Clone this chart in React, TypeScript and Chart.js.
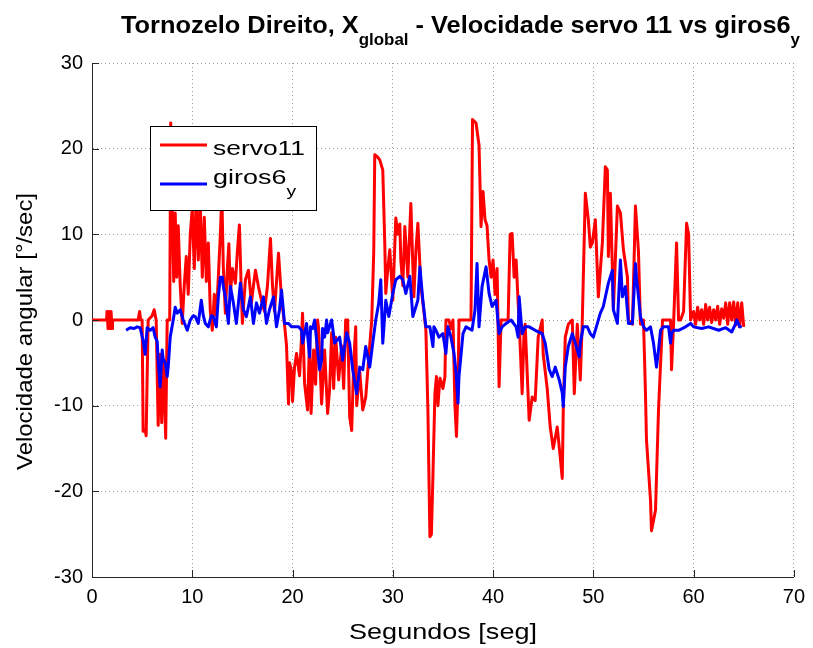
import React, { useEffect, useRef } from 'react';
import { Chart, registerables } from 'chart.js';

Chart.register(...registerables);

// ---- data ----
const servoT = [
  0, 1.45, 1.5, 1.6, 1.7, 1.8, 1.9, 2.0, 2.05, 4.6, 4.75, 4.85, 5.0, 5.1, 5.3, 5.4, 5.6, 6.0, 6.2, 6.4,
  6.6, 6.8, 6.95, 7.1, 7.2, 7.35, 7.5, 7.75, 7.85, 8.0, 8.15, 8.3, 8.45, 8.6, 8.8, 9.0, 9.2, 9.4, 9.6, 9.8,
  10.0, 10.2, 10.4, 10.6, 10.8, 11.0, 11.2, 11.4, 11.6, 11.8, 12.0, 12.2, 12.4, 12.6, 12.8, 12.95, 13.1, 13.3, 13.5, 13.65,
  13.8, 14.0, 14.3, 14.5, 14.7, 14.9, 15.0, 15.3, 15.6, 15.9, 16.1, 16.3, 16.6, 16.9, 17.2, 17.5, 17.8, 18.0, 18.2, 18.6,
  18.9, 19.2, 19.4, 19.6, 19.7, 19.9, 20.0, 20.2, 20.4, 20.7, 20.9, 21.0, 21.2, 21.5, 21.7, 21.85, 22.1, 22.3, 22.5, 22.6,
  22.9, 23.2, 23.5, 23.7, 23.9, 24.1, 24.3, 24.6, 24.9, 25.1, 25.3, 25.5, 25.7, 25.9, 26.1, 26.3, 26.4, 26.7, 27.0, 27.3,
  27.5, 27.7, 27.9, 28.1, 28.2, 28.5, 28.7, 29.0, 29.2, 29.3, 29.5, 29.7, 30.0, 30.3, 30.5, 30.7, 30.8, 31.0, 31.2, 31.5,
  31.8, 32.1, 32.3, 32.5, 32.8, 33.1, 33.3, 33.5, 33.7, 33.85, 34.0, 34.2, 34.35, 34.5, 34.7, 35.0, 35.2, 35.3, 35.6, 35.8,
  36.0, 36.2, 36.35, 36.5, 36.6, 37.8, 37.95, 38.3, 38.6, 38.8, 39.0, 39.2, 39.4, 39.6, 39.8, 40.0, 40.2, 40.4, 40.6, 40.8,
  41.5, 41.7, 41.9, 42.1, 42.3, 42.5, 42.6, 42.9, 43.1, 43.2, 43.6, 43.9, 44.2, 44.5, 44.9, 45.0, 45.4, 45.7, 46.0, 46.4,
  46.7, 46.9, 47.0, 47.2, 47.5, 47.9, 48.1, 48.4, 48.7, 48.9, 49.2, 49.5, 49.7, 49.9, 50.2, 50.5, 50.9, 51.2, 51.4, 51.5,
  51.7, 52.0, 52.4, 52.7, 53.0, 53.4, 53.5, 53.9, 54.2, 54.5, 54.7, 55.0, 55.2, 55.3, 55.5, 55.7, 55.8, 56.2, 56.5, 56.9,
  57.7, 57.8, 58.0, 58.3, 58.5, 58.7, 59.0, 59.3, 59.5, 59.7, 60.0, 60.2, 60.4, 60.6, 60.8, 61.0, 61.2, 61.4, 61.6, 61.8,
  62.0, 62.2, 62.4, 62.6, 62.8, 63.0, 63.2, 63.4, 63.6, 63.8, 64.0, 64.2, 64.4, 64.6, 64.8, 65.0,
];
const servoV = [
  0, 0, 1, -1, 1, -1, 1, -1, 0, 0, 1, 0, 0, -13, -12.8, -13.5, 0, 0.5, 1.2, 0,
  -12.3, -4, -12, -5, -7.5, -13.8, 0, 0, 23, 13, 4.5, 12.5, 5, 11, 4, -0.4, 4, 7.4, 3, 10,
  13, 6, 14.8, 7, 13.5, 5, 12, 4.5, 9, 1, -1.2, 3, 0.5, 5, 10, 14.5, 6, 0.8, 6, 8.9,
  3, 6, 4.3, 8, 11.1, 3, -0.4, 4.7, 5.8, 2, 4, 5.8, 3.9, 2.3, 1, 4, 9.5, 4, 1, 7.8,
  2.5, -0.5, -3, -9.8, -5, -6, -9.5, -5.5, -3.9, -6.5, -2, 0.8, -7.4, -10.5, -2, -10.9, -3.5, -7.5, 0, -1,
  -9.8, -3.5, -10.9, -8, -1.5, -8, -2, -7, -3, -8, 0, 0, -11.3, -12.9, -5, -0.8, -10, -6, -10.5, -9,
  -6, -3, 0, 8, 19.3, 19, 18.7, 17.5, 8.9, 3.1, 6, 8.2, 2.3, 11.9, 10, 11.2, 7, 4, 10.9, 5,
  13.6, 2.7, 8, 11.3, 4, 1, -1.2, -10.5, -25.3, -25, -18.3, -8.6, -6.6, -10, -6.8, -8, -6.6, 0, 0, -1,
  0, -10, -13.6, -8, 0, 0, 23.4, 23, 20.4, 10.9, 15, 11.7, 11, 7, 5, 7, 3, 6, -7.8, 0,
  0, 10, 10.1, 5, 7, 2, 0, -8.6, -1, -0.5, -11.7, -9, -9.4, -2, 0, -4, -8, -12.5, -15, -12.5,
  -16, -18.5, -10.5, -2, -0.5, 0, -8.6, -0.5, -7, 0, 14.8, 11.7, 8.5, 9, 11.7, 2.7, 9, 17.9, 17.5, 7.4,
  14.8, 1.2, 13.3, 12.5, 8.2, 5, 0, -0.5, 13.3, 8, -0.5, 0, -8.6, -14, -17.5, -21, -24.6, -22.2, -10.5, 0,
  0, -5.8, -0.5, 9, 0, 0, 1, 11.3, 10, 0, 1, -0.5, 1.5, 0, 1.2, -0.5, 1.8, 0, 1.5, -0.3,
  1.2, 0, 1.6, -0.5, 1.3, 0.2, 2, -0.5, 2, 0, 2.1, -0.6, 2, -0.8, 2, -0.8,
];
const girosT = [
  3.4, 3.8, 4.2, 4.5, 4.8, 5.1, 5.3, 5.5, 5.8, 6.1, 6.3, 6.5, 6.6, 6.8, 7.0, 7.1, 7.3, 7.5, 7.6, 7.8,
  8.1, 8.3, 8.5, 8.8, 9.1, 9.5, 9.8, 10.1, 10.3, 10.6, 10.9, 11.1, 11.3, 11.6, 11.9, 12.1, 12.4, 12.6, 12.8, 13.0,
  13.1, 13.3, 13.6, 13.8, 14.1, 14.4, 14.8, 15.1, 15.4, 15.8, 16.1, 16.4, 16.7, 17.1, 17.4, 17.7, 18.1, 18.4, 18.7, 18.9,
  19.2, 19.6, 19.9, 20.3, 20.6, 20.9, 21.0, 21.4, 21.7, 21.8, 22.0, 22.2, 22.5, 22.7, 22.9, 23.0, 23.2, 23.4, 23.5, 23.9,
  24.2, 24.7, 25.0, 25.4, 25.7, 26.0, 26.4, 26.7, 27.0, 27.3, 27.7, 28.0, 28.3, 28.6, 28.8, 29.0, 29.3, 29.6, 30.0, 30.3,
  30.7, 31.0, 31.3, 31.7, 32.0, 32.5, 32.7, 33.0, 33.3, 33.7, 34.0, 34.1, 34.3, 34.6, 35.0, 35.3, 35.5, 35.8, 36.1, 36.3,
  36.5, 36.6, 37.0, 37.3, 37.9, 38.2, 38.4, 38.6, 38.9, 39.3, 39.6, 39.9, 40.3, 40.6, 40.9, 41.3, 41.8, 42.3, 42.5, 42.6,
  42.9, 43.2, 43.6, 44.2, 44.9, 45.2, 45.6, 45.9, 46.2, 46.6, 46.9, 47.0, 47.2, 47.5, 47.9, 48.2, 48.6, 48.7, 49.0, 49.4,
  49.7, 50.0, 50.4, 50.7, 51.0, 51.2, 51.5, 51.9, 52.0, 52.4, 52.7, 52.9, 53.2, 53.5, 53.9, 54.2, 54.3, 54.7, 55.0, 55.3,
  55.7, 56.0, 56.3, 56.5, 56.7, 57.0, 57.3, 57.5, 57.7, 57.8, 58.0, 58.5, 59.2, 59.7, 60.0, 60.8, 61.5, 62.5, 63.2, 63.8,
  64.2, 64.3, 64.6, 64.8,
];
const girosV = [
  -1.2, -0.9, -1, -0.8, -0.9, -2.4, -4, -0.9, -1.2, -0.9, -2, -2.5, -4.7, -7.8, -3.5, -4.5, -5, -6.6, -5.5, -2,
  0, 1.5, 0.8, 1.2, 0, -1.2, 0, 0.5, 0.4, -0.4, 2.3, 0.5, -0.4, -0.8, 0.5, 0.4, -0.8, 2.7, 5, 5,
  3.9, 2.7, -0.4, 3.9, 2, -0.4, 4.3, 1.2, 0.4, 2.7, -0.4, 2, 0.8, 2.7, -0.4, 1.2, 2.7, -0.8, 1.2, 3.5,
  -0.4, -0.4, -0.8, -0.8, -0.8, -1.2, -2.7, -0.4, -4.3, -0.8, -1, 0, -3.5, -5.8, -4.7, -1, -2, 0, -1.5, 0,
  -2.7, -2, -4.7, -1.5, -2.7, -5.8, -8.6, -5.5, -5.8, -3.1, -5.5, -2.7, 0, 2, 4.7, -2.7, 2.3, 0.4, 3.1, 4.7,
  5.1, 4.7, 3.1, 5.1, 0.4, 2.3, 6.2, 2.3, -0.8, -0.8, -3.1, -0.8, -1.2, -2, -1.6, -3.9, -0.8, -2, -3.9, -6,
  -9.7, -6.6, -1.6, -0.8, -1.2, 1.2, 6.6, -0.8, 3.9, 6.2, 3.1, 1.6, 2.3, -1.6, -0.8, -0.4, 0, -0.8, -2, 2.7,
  -1.6, -0.8, -0.8, -1.2, -1.6, -2.7, -5.8, -6.6, -5.5, -7, -8.5, -10.1, -5.5, -3.1, -1.6, -2.7, -4.3, -2.7, -0.8, -0.8,
  -1.6, -2, -0.4, 0.8, 1.6, 2.7, 4.3, 5.8, 1.2, -0.4, 7, 2.7, 3.9, -0.4, -0.4, 6.6, 5, 0.4, -0.8, -1.2,
  -0.8, -2.7, -5.5, -3.5, -1.2, -0.8, -0.8, -0.8, -2.7, -1.6, -1.2, -1.2, -0.8, -0.4, -0.8, -1.0, -0.8, -1.2, -0.9, -1.4,
  -0.4, 0, -0.8, -0.8,
];
const xTickValues = [0, 10, 20, 30, 40, 50, 60, 70];
const yTickValues = [-30, -20, -10, 0, 10, 20, 30];
const seriesLabels = ['servo11', 'giros6'];

const FONT = '"Liberation Sans", Arial, Helvetica, sans-serif';

type Part = { text: string; font: string; dy: number };

function drawParts(ctx: CanvasRenderingContext2D, parts: Part[], x: number, y: number, targetWidth: number | null) {
  ctx.save();
  let total = 0;
  const widths = parts.map((p) => {
    ctx.font = p.font;
    const w = ctx.measureText(p.text).width;
    total += w;
    return w;
  });
  const s = targetWidth ? targetWidth / total : 1;
  ctx.translate(x, y);
  ctx.scale(s, 1);
  let cx = 0;
  ctx.fillStyle = '#000';
  ctx.textAlign = 'left';
  ctx.textBaseline = 'alphabetic';
  parts.forEach((p, i) => {
    ctx.font = p.font;
    ctx.fillText(p.text, cx, p.dy);
    cx += widths[i];
  });
  ctx.restore();
}

const overlay = {
  id: 'overlay',
  afterDraw(chart: any) {
    const ctx: CanvasRenderingContext2D = chart.ctx;
    const { left, bottom } = chart.chartArea;
    const xs = chart.scales.x;
    const ys = chart.scales.y;
    ctx.save();
    // inward ticks
    ctx.strokeStyle = '#262626';
    ctx.lineWidth = 1;
    ctx.beginPath();
    xTickValues.forEach((t) => {
      const px = Math.round(xs.getPixelForValue(t)) + 0.5;
      ctx.moveTo(px, bottom);
      ctx.lineTo(px, bottom - 7);
    });
    yTickValues.forEach((v) => {
      const py = Math.round(ys.getPixelForValue(v)) + 0.5;
      ctx.moveTo(left, py);
      ctx.lineTo(left + 7, py);
    });
    ctx.stroke();

    // legend box
    const lx = 150.5, ly = 126.5, lw = 166, lh = 84;
    ctx.fillStyle = '#fff';
    ctx.fillRect(lx, ly, lw, lh);
    ctx.strokeStyle = '#000';
    ctx.lineWidth = 1;
    ctx.strokeRect(lx, ly, lw, lh);
    ctx.lineWidth = 3;
    ctx.strokeStyle = '#ff0000';
    ctx.beginPath();
    ctx.moveTo(160, 145);
    ctx.lineTo(207, 145);
    ctx.stroke();
    ctx.strokeStyle = '#0000ff';
    ctx.beginPath();
    ctx.moveTo(160, 184);
    ctx.lineTo(207, 184);
    ctx.stroke();
    drawParts(ctx, [{ text: seriesLabels[0], font: `21px ${FONT}`, dy: 0 }], 213, 155, 92);
    drawParts(
      ctx,
      [
        { text: seriesLabels[1], font: `21px ${FONT}`, dy: 0 },
        { text: 'y', font: `15px ${FONT}`, dy: 12 },
      ],
      213,
      184,
      83
    );

    // title
    drawParts(
      ctx,
      [
        { text: 'Tornozelo Direito, X', font: `bold 24px ${FONT}`, dy: 0 },
        { text: 'global', font: `bold 16px ${FONT}`, dy: 12 },
        { text: ' - Velocidade servo 11 vs giros6', font: `bold 24px ${FONT}`, dy: 0 },
        { text: 'y', font: `bold 16px ${FONT}`, dy: 12 },
      ],
      121,
      33,
      679
    );

    // x axis title
    drawParts(ctx, [{ text: 'Segundos [seg]', font: `22px ${FONT}`, dy: 0 }], 349, 639, 188);

    // y axis title (rotated)
    ctx.save();
    ctx.translate(32, 470);
    ctx.rotate(-Math.PI / 2);
    drawParts(ctx, [{ text: 'Velocidade angular [°/sec]', font: `22px ${FONT}`, dy: 0 }], 0, 0, 277);
    ctx.restore();

    ctx.restore();
  },
};

export default function App() {
  const canvasRef = useRef<HTMLCanvasElement | null>(null);

  useEffect(() => {
    const canvas = canvasRef.current;
    if (!canvas) return;
    const servoData = servoT.map((t, i) => ({ x: t, y: servoV[i] }));
    const girosData = girosT.map((t, i) => ({ x: t, y: girosV[i] }));

    const gridOpts = { color: '#9a9a9a', lineWidth: 1, drawTicks: false };
    const borderOpts = { display: true, color: '#262626', width: 1, dash: [1, 3] };
    const tickFont = { family: FONT, size: 20 };

    const chart = new Chart(canvas, {
      type: 'line',
      data: {
        datasets: [
          {
            label: 'giros6y',
            data: girosData,
            borderColor: '#0000ff',
            backgroundColor: '#0000ff',
            borderWidth: 3,
            borderJoinStyle: 'round',
            pointRadius: 0,
            tension: 0,
            order: 0,
          },
          {
            label: 'servo11',
            data: servoData,
            borderColor: '#ff0000',
            backgroundColor: '#ff0000',
            borderWidth: 3,
            borderJoinStyle: 'round',
            pointRadius: 0,
            tension: 0,
            order: 1,
          },
        ],
      },
      options: {
        animation: false,
        responsive: false,
        devicePixelRatio: 1,
        layout: { padding: { left: 0, top: 63, right: 18, bottom: 0 } },
        plugins: {
          legend: { display: false },
          title: { display: false },
          tooltip: { enabled: false },
        },
        scales: {
          x: {
            type: 'linear',
            min: 0,
            max: 70,
            afterBuildTicks: (s: any) => {
              s.ticks = xTickValues.map((v) => ({ value: v }));
            },
            afterFit: (s: any) => {
              s.height = 71;
            },
            grid: gridOpts,
            border: borderOpts,
            ticks: { color: '#000', font: tickFont, padding: 8, maxRotation: 0, autoSkip: false },
          },
          y: {
            type: 'linear',
            min: -30,
            max: 30,
            afterBuildTicks: (s: any) => {
              s.ticks = yTickValues.map((v) => ({ value: v }));
            },
            afterFit: (s: any) => {
              s.width = 92;
            },
            grid: gridOpts,
            border: borderOpts,
            ticks: { color: '#000', font: tickFont, padding: 9, autoSkip: false },
          },
        },
      } as any,
      plugins: [overlay],
    });
    return () => chart.destroy();
  }, []);

  return (
    <div style={{ position: 'fixed', left: 0, top: 0, width: 813, height: 648, background: '#fff' }}>
      <canvas ref={canvasRef} width={813} height={648} style={{ display: 'block' }} />
    </div>
  );
}
